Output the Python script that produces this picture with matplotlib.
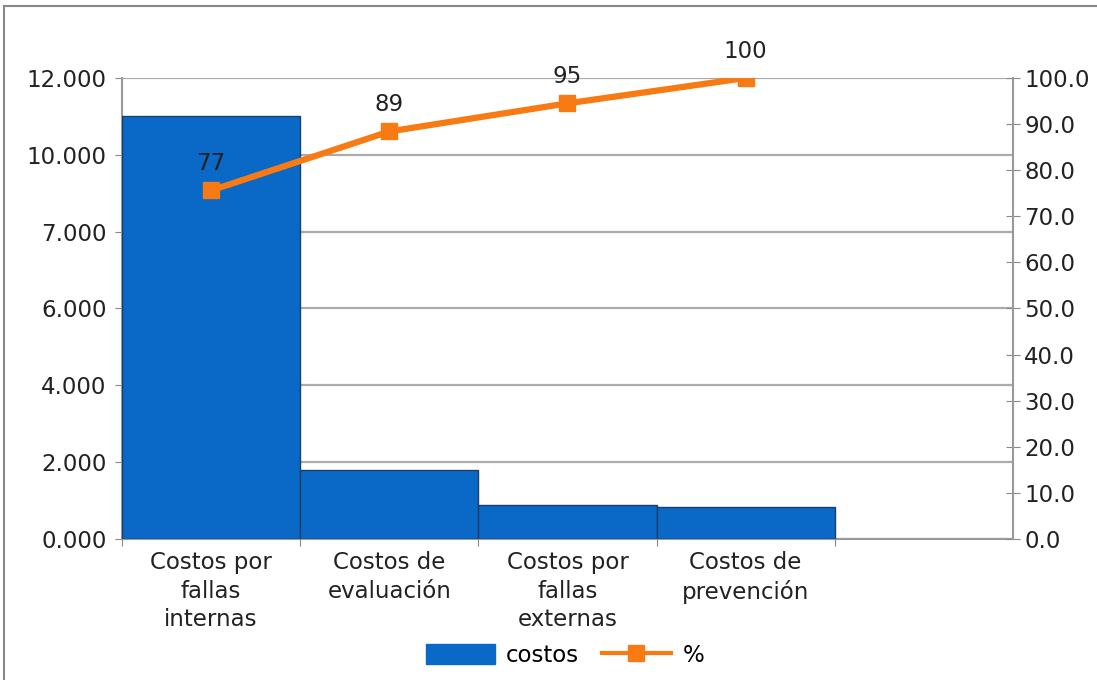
import matplotlib
matplotlib.use("Agg")
import matplotlib.pyplot as plt
from matplotlib.patches import Patch
from matplotlib.lines import Line2D

plt.rcParams['font.family'] = ['DejaVu Sans']

categories = ["Costos por\nfallas\ninternas", "Costos de\nevaluación",
              "Costos por\nfallas\nexternas", "Costos de\nprevención"]
costos = [11000, 1800, 890, 840]
pct = [75.6, 88.4, 94.5, 100]
pct_labels = ["77", "89", "95", "100"]
left_ticks = [0, 2000, 4000, 6000, 8000, 10000, 12000]
left_labels = ["0.000", "2.000", "4.000", "6.000", "7.000", "10.000", "12.000"]
right_ticks = [0, 10, 20, 30, 40, 50, 60, 70, 80, 90, 100]

blue = "#0a68c6"
orange = "#f77a12"
grid_c = "#ababab"
txt = "#222222"
fs = 16.5

fig = plt.figure(figsize=(10.97, 6.8), dpi=100)
ax = fig.add_axes([0.1112, 0.2074, 0.8122, 0.6779])
x = list(range(len(costos)))

ax.bar(x, costos, width=1.0, color=blue, edgecolor="#1d3f66", linewidth=1, zorder=3)
ax.set_xlim(-0.5, 4.5)
ax.set_ylim(0, 12000)
ax.set_yticks(left_ticks)
ax.set_yticklabels(left_labels, fontsize=fs, color=txt)
ax.yaxis.grid(True, color=grid_c, linewidth=1.6, zorder=0)
ax.set_axisbelow(True)

ax.set_xticks([-0.5, 0.5, 1.5, 2.5, 3.5])
ax.set_xticklabels([])
ax.set_xticks(x, minor=True)
ax.set_xticklabels(categories, minor=True, fontsize=fs, color=txt, linespacing=1.3)
ax.tick_params(axis="x", which="minor", length=0, pad=9)
ax.tick_params(axis="x", which="major", length=5, color="#888888")
ax.tick_params(axis="y", length=5, color="#888888", pad=6)

for s in ["top", "right"]:
    ax.spines[s].set_visible(False)
for s in ["left", "bottom"]:
    ax.spines[s].set_color("#999999")
    ax.spines[s].set_linewidth(1.5)

ax2 = ax.twinx()
ax2.plot(x, pct, color=orange, linewidth=4.5, marker="s", markersize=12, zorder=4)
ax2.set_ylim(0, 100)
ax2.set_yticks(right_ticks)
ax2.set_yticklabels([f"{v:.1f}" for v in right_ticks], fontsize=fs, color=txt)
ax2.tick_params(axis="y", direction="inout", length=10, color="#888888", pad=3)
for s in ["top", "left", "bottom"]:
    ax2.spines[s].set_visible(False)
ax2.spines["right"].set_color("#999999")
ax2.spines["right"].set_linewidth(1.5)

for xi, p, lab in zip(x, pct, pct_labels):
    ax2.annotate(lab, (xi, p), xytext=(0, 11), textcoords="offset points",
                 ha="center", va="bottom", fontsize=fs, color=txt)

handles = [Patch(facecolor=blue, edgecolor=blue),
           Line2D([0], [0], color=orange, linewidth=3, marker="s", markersize=11)]
fig.legend(handles, ["costos", "%"], loc="center", bbox_to_anchor=(0.515, 0.036),
           ncol=2, frameon=False, fontsize=fs, handlelength=3.0, handleheight=1.0,
           columnspacing=1.0, handletextpad=0.5)

# outer frame
fig.add_artist(Line2D([0.004, 1.0], [0.991, 0.991], color="#888888", linewidth=1.5))
fig.add_artist(Line2D([0.004, 0.004], [0.0, 0.991], color="#888888", linewidth=1.5))

fig.savefig("out.png", dpi=100)
